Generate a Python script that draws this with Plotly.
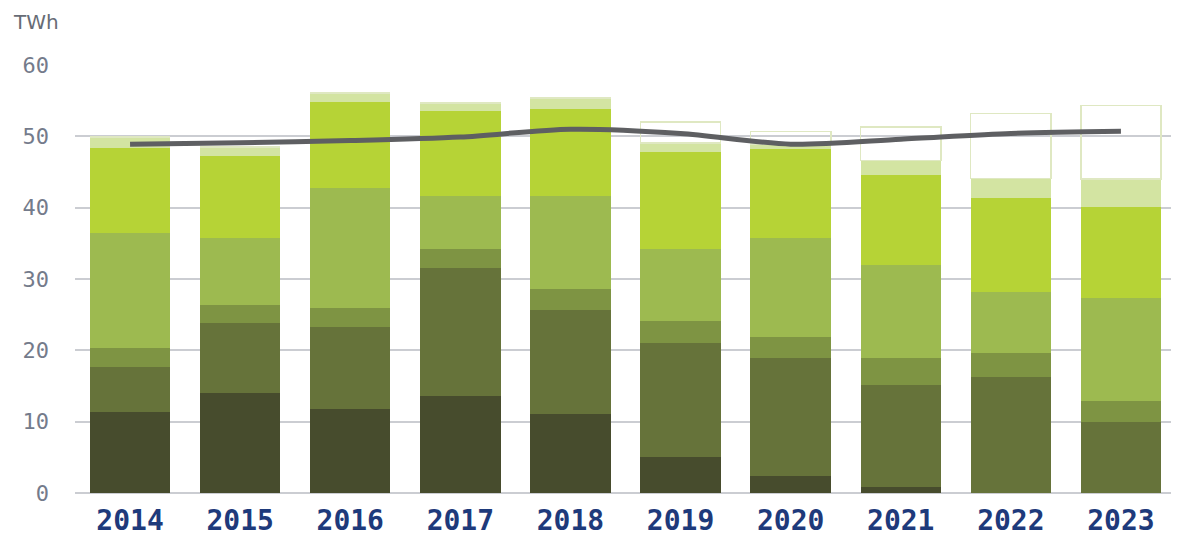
import plotly.graph_objects as go

years = ["2014", "2015", "2016", "2017", "2018", "2019", "2020", "2021", "2022", "2023"]

# stacked segments, bottom to top (TWh)
seg_darkest = [11.4, 14.0, 11.8, 13.6, 11.1, 5.0, 2.4, 0.9, 0.0, 0.0]
seg_dark = [6.3, 9.8, 11.5, 18.0, 14.5, 16.0, 16.5, 14.2, 16.3, 9.9]
seg_medium = [2.6, 2.5, 2.6, 2.6, 3.0, 3.1, 3.0, 3.8, 3.3, 3.0]
seg_light = [16.1, 9.4, 16.8, 7.4, 13.0, 10.1, 13.8, 13.0, 8.6, 14.4]
seg_bright = [12.0, 11.6, 12.1, 12.0, 12.3, 13.6, 12.5, 12.7, 13.1, 12.8]
seg_pale = [1.5, 1.2, 1.3, 1.1, 1.5, 1.3, 0.7, 2.0, 2.8, 3.9]
seg_open = [0.0, 0.0, 0.0, 0.0, 0.0, 2.9, 1.8, 4.7, 9.1, 10.3]

line_vals = [48.9, 49.1, 49.4, 49.9, 51.0, 50.4, 48.9, 49.6, 50.4, 50.7]

y_ticks = [0, 10, 20, 30, 40, 50, 60]
y_labels = ["0", "10", "20", "30", "40", "50", "60"]

colors = ["#474c2d", "#66733a", "#7e9443", "#9dba50", "#b6d336", "#d3e4a2"]
series = [seg_darkest, seg_dark, seg_medium, seg_light, seg_bright, seg_pale]

fig = go.Figure()
for vals, c in zip(series, colors):
    fig.add_trace(go.Bar(x=years, y=vals, marker=dict(color=c, line=dict(width=0)),
                         hoverinfo="skip", showlegend=False))
fig.add_trace(go.Bar(x=years, y=seg_open,
                     marker=dict(color="rgba(255,255,255,0)", line=dict(color="#dfe8c2", width=1.5)),
                     hoverinfo="skip", showlegend=False))
fig.add_trace(go.Scatter(x=years, y=line_vals, mode="lines",
                         line=dict(color="#5e5f62", width=5, shape="spline", smoothing=0.8),
                         hoverinfo="skip", showlegend=False))

fig.update_layout(
    barmode="stack",
    bargap=0.27,
    width=1179, height=535,
    margin=dict(l=67, r=11, t=57, b=50, autoexpand=False),
    plot_bgcolor="white", paper_bgcolor="white",
    xaxis=dict(
        tickfont=dict(family="DejaVu Sans Mono", size=28, color="#1e3a7b", weight="bold"),
        showgrid=False, showline=False, zeroline=False, ticks="",
        ticklabelstandoff=8, automargin=False,
    ),
    yaxis=dict(
        range=[0, 60],
        tickvals=y_ticks, ticktext=y_labels,
        tickfont=dict(family="DejaVu Sans Mono", size=22, color="#747b8b"),
        showgrid=True, gridcolor="#cbcdd2", gridwidth=1.5,
        zeroline=True, zerolinecolor="#cbcdd2", zerolinewidth=1.5,
        showline=False, ticks="",
        ticklabelstandoff=25, automargin=False,
    ),
    annotations=[dict(text="TWh", xref="paper", yref="paper", x=-0.058, y=1.10,
                      xanchor="left", yanchor="middle", showarrow=False,
                      font=dict(family="DejaVu Sans", size=20, color="#676c76"))],
)

fig.write_html("out.html")
